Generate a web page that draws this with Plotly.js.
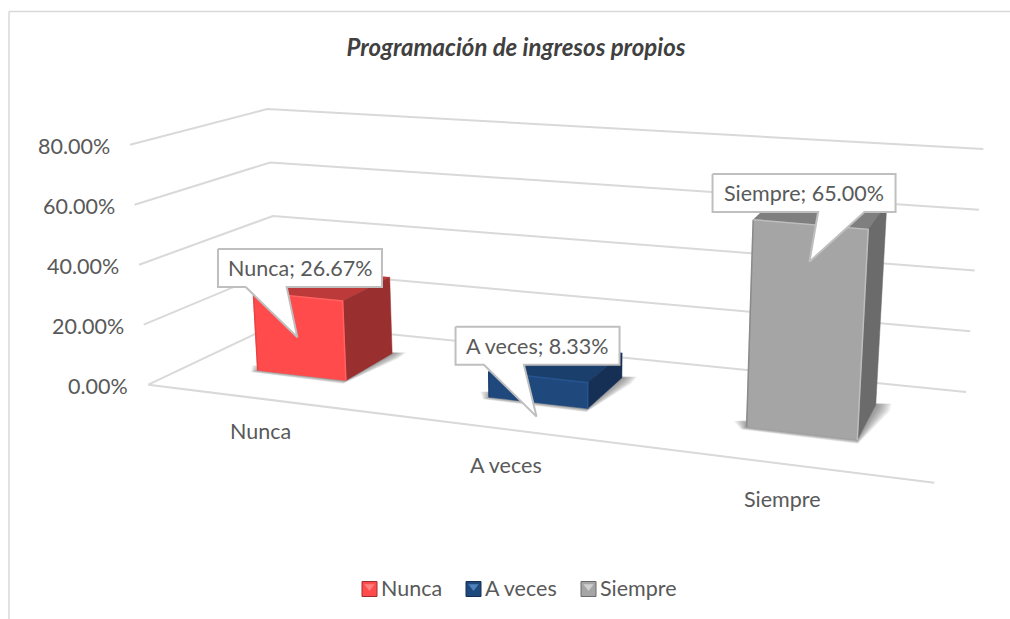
<!DOCTYPE html>
<html><head><meta charset="utf-8">
<script src="https://cdn.plot.ly/plotly-3.0.1.min.js"></script>
<style>html,body{margin:0;padding:0;background:#fff}</style></head>
<body><div id="chart" style="width:1010px;height:619px"></div>
<script>
// ---- data ----
const categories = ['Nunca', 'A veces', 'Siempre'];
const values = [26.67, 8.33, 65.00];
const valueTicks = [0, 20, 40, 60, 80];
const chartTitle = 'Programación de ingresos propios';

// ---- style ----
const frontColors = ['#FF4B4B', '#1F497D', '#A5A5A5'];
const topColors = ['#BC3A3A', '#1A3F6C', '#7F7F7F'];
const sideColors = ['#99302F', '#152F55', '#6B6B6B'];
const edgeColors = ['#FF6060', '#275490', '#BDBDBD'];
const leftEdgeColors = ['#E84444', '#1A3F6C', '#8A8A8A'];
const iconLight = ['#FF8080', '#4F81BD', '#D0D0D0'];
const textColor = '#595959';
const gridColor = '#D9D9D9';
const font = 'Lato, "Open Sans", sans-serif';
const fontSize = 21.5;

// ---- 3D projection: floor on the page, wall heights, vertical vanishing point ----
const floorCorners = [[148.3,384.7],[934.3,482.7],[966,392],[278.5,323]];
const fullHeights = [240,271,243,214]; // pixel height of the maximum value at each floor corner
const vanish = [572,5932];
const maxValue = 80;

function homography(q){
  const [p0,p1,p2,p3]=q;
  const dx1=p1[0]-p2[0],dx2=p3[0]-p2[0],sx=p0[0]-p1[0]+p2[0]-p3[0];
  const dy1=p1[1]-p2[1],dy2=p3[1]-p2[1],sy=p0[1]-p1[1]+p2[1]-p3[1];
  const det=dx1*dy2-dx2*dy1;
  const g=(sx*dy2-dx2*sy)/det,h=(dx1*sy-sx*dy1)/det;
  const a=p1[0]-p0[0]+g*p1[0],b=p3[0]-p0[0]+h*p3[0],c=p0[0];
  const d=p1[1]-p0[1]+g*p1[1],e=p3[1]-p0[1]+h*p3[1],f=p0[1];
  return (u,v)=>{const w=g*u+h*v+1;return [(a*u+b*v+c)/w,(d*u+e*v+f)/w];};
}
const floorH=homography(floorCorners);
function project(u,v,val){
  const F=floorH(u,v);
  const H=(1-v)*((1-u)*fullHeights[0]+u*fullHeights[1])+v*((1-u)*fullHeights[3]+u*fullHeights[2]);
  const dy=H*val/maxValue;
  return [F[0]+dy*(F[0]-vanish[0])/(vanish[1]-F[1]),F[1]-dy];
}
const xs=p=>p.map(a=>a[0]), ys=p=>p.map(a=>a[1]);

const traces=[];
function poly(pts,fill,opt={}){
  const c=pts.concat([pts[0]]);
  traces.push({type:'scatter',mode:'lines',x:xs(c),y:ys(c),fill:'toself',fillcolor:fill,
    line:{color:opt.line||fill,width:opt.width===undefined?0.5:opt.width},
    hoverinfo:'skip',showlegend:false});
}
function line(pts,color,width){
  traces.push({type:'scatter',mode:'lines',x:xs(pts),y:ys(pts),line:{color:color,width:width},
    hoverinfo:'skip',showlegend:false});
}

// gridlines
valueTicks.forEach(t=>{
  const pts=[project(0,0,t),project(0,1,t),project(1,1,t)];
  if(t===0) pts.unshift(project(1,0,t));
  line(pts,gridColor,2);
});

// bars
const barWidths=[0.136,0.132,0.128], v0=0.32, v1=0.73;
const barCenters=[0.171,0.511,0.839];
values.forEach((val,i)=>{
  const uc=barCenters[i],u0=uc-barWidths[i]/2,u1=uc+barWidths[i]/2;
  // soft shadow on the floor
  for(let s=8;s>=1;s--){
    const g=s*0.0024, gv=s*0.005;
    poly([project(u0-g,v0+0.05,0),project(u0-g*0.2,v0-gv*0.8,0),project(u1+g*0.15,v0-gv,0),project(u1+g,v1-0.06,0),project(u1+g*0.9,v1+gv*0.8,0),project(u1-0.03,v1,0),project(u0+0.02,v0+0.12,0)],
      'rgba(70,70,70,0.095)',{width:0});
  }
  const fb=[project(u0,v0,0),project(u1,v0,0)], ft=[project(u1,v0,val),project(u0,v0,val)];
  const bb=project(u1,v1,0), bt=project(u1,v1,val), btl=project(u0,v1,val);
  poly([ft[1],ft[0],bt,btl],topColors[i]);
  poly([fb[1],bb,bt,ft[0]],sideColors[i]);
  poly([fb[0],fb[1],ft[0],ft[1]],frontColors[i]);
  line([fb[0],ft[1]],leftEdgeColors[i],1.5);
  line([fb[1],ft[0],ft[1]],edgeColors[i],1.5);
});

// callouts: box and pointer, placed relative to each bar's top front centre
const boxW=[164,164,183], boxH=38;
const boxOffset=[[2.6,-28.5],[0,-31.4],[-5.8,-31.4]];
const tipOffset=[[0,40.8],[-1,39.5],[-0.4,37.3]];
const baseFrac=[[0.169,0.419],[0.173,0.417],[0.577,0.83]];
const labelOffsetY=[32.5,35.5,35];
const annotations=[];
values.forEach((val,i)=>{
  const a=project(barCenters[i],v0,val);
  const cx=a[0]+boxOffset[i][0], cy=a[1]+boxOffset[i][1];
  const L=cx-boxW[i]/2,R=cx+boxW[i]/2,T=cy-boxH/2,B=cy+boxH/2;
  const tip=[a[0]+tipOffset[i][0],a[1]+tipOffset[i][1]];
  poly([[L,T],[R,T],[R,B],[L+boxW[i]*baseFrac[i][1],B],tip,[L+boxW[i]*baseFrac[i][0],B],[L,B]],'#FFFFFF',{line:'#BFBFBF',width:2});
  annotations.push({x:cx,y:cy,xref:'x',yref:'y',showarrow:false,xanchor:'center',yanchor:'middle',
    text:categories[i]+'; '+val.toFixed(2)+'%',font:{family:font,size:fontSize,color:textColor}});
  // category label below the floor front edge
  const lab=project(barCenters[i],0,0);
  annotations.push({x:lab[0]+1,y:lab[1]+labelOffsetY[i],xref:'x',yref:'y',showarrow:false,xanchor:'center',yanchor:'middle',
    text:categories[i],font:{family:font,size:fontSize,color:textColor}});
});
// value axis labels
valueTicks.forEach(t=>{
  const p=project(0,0,t);
  annotations.push({x:p[0]-18,y:p[1]+1,xref:'x',yref:'y',showarrow:false,xanchor:'right',yanchor:'middle',
    text:t.toFixed(2)+'%',font:{family:font,size:fontSize,color:textColor}});
});

// legend row
const legendIconX=[369.5,473.5,588.5], legendY=589;
categories.forEach((c,i)=>{
  traces.push({type:'scatter',mode:'markers',x:[legendIconX[i]],y:[legendY],name:c,showlegend:false,
    marker:{symbol:'square',size:15,color:frontColors[i],line:{color:sideColors[i],width:1}},hoverinfo:'skip'});
  traces.push({type:'scatter',mode:'markers',x:[legendIconX[i]],y:[legendY-2.5],showlegend:false,
    marker:{symbol:'triangle-down',size:9,color:iconLight[i]},hoverinfo:'skip'});
  annotations.push({x:legendIconX[i]+9.5,y:legendY-1,xref:'x',yref:'y',showarrow:false,xanchor:'left',yanchor:'middle',
    text:c,font:{family:font,size:fontSize,color:textColor}});
});

const layout={
  width:1010,height:619,margin:{l:0,r:0,t:0,b:0},paper_bgcolor:'#fff',plot_bgcolor:'#fff',
  font:{family:font,color:textColor,size:fontSize},showlegend:false,
  title:{text:'<b><i>'+chartTitle+'</i></b>',x:516/1010,xanchor:'center',y:1-48/619,yanchor:'middle',yref:'container',
    font:{family:font,size:24,color:'#404040'}},
  xaxis:{range:[0,1010],visible:false,fixedrange:true},
  yaxis:{range:[619,0],visible:false,fixedrange:true},
  annotations:annotations,
  shapes:[
    {type:'line',xref:'paper',yref:'paper',x0:9/1010,x1:1,y0:1-11.5/619,y1:1-11.5/619,line:{color:gridColor,width:1.5}},
    {type:'line',xref:'paper',yref:'paper',x0:9/1010,x1:9/1010,y0:1-11.5/619,y1:0,line:{color:gridColor,width:1.5}}
  ]
};
Plotly.newPlot('chart',traces,layout,{displayModeBar:false,staticPlot:true});
</script></body></html>
